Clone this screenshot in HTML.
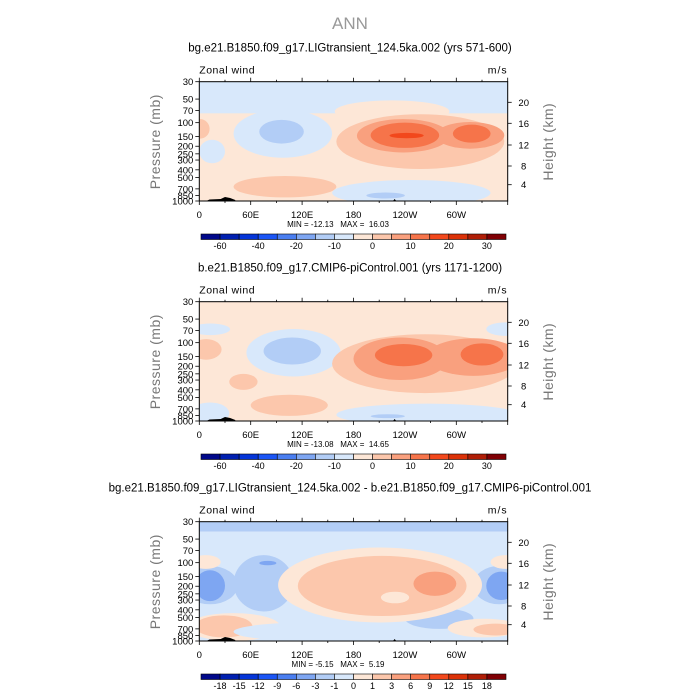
<!DOCTYPE html>
<html><head><meta charset="utf-8"><style>
html,body{margin:0;padding:0;background:#fff;}
svg{display:block;font-family:"Liberation Sans",sans-serif;}
</style></head><body>
<svg id="chart" width="700" height="700" viewBox="0 0 700 700" xmlns="http://www.w3.org/2000/svg">
<text x="350" y="29" text-anchor="middle" font-size="17" fill="#999">ANN</text>
</svg>
<script>
const palette = ["#00088a","#0020b0","#0435d8","#1b55f5","#4a7ef0","#7ea6f2","#b2cdf6","#d8e8fb","#fde7d7","#fcc7ac","#f9a07e","#f6744a","#f2481c","#dc3208","#b01e06","#800004"];
const pressureTicks = [30,50,70,100,150,200,250,300,400,500,700,850,1000];
const lonTicks = [0,60,120,180,240,300];
const lonLabels = ["0","60E","120E","180","120W","60W"];
const heightTicks = [20,16,12,8,4];
const heightOffsets = [20.6,41.6,63.3,84.3,103];
const cbLabelsFull = ["-60","","-40","","-20","","-10","","0","","10","","20","","30"];
const cbLabelsDiff = ["-18","-15","-12","-9","-6","-3","-1","0","1","3","6","9","12","15","18"];
const titles = ["bg.e21.B1850.f09_g17.LIGtransient_124.5ka.002 (yrs 571-600)","b.e21.B1850.f09_g17.CMIP6-piControl.001 (yrs 1171-1200)","bg.e21.B1850.f09_g17.LIGtransient_124.5ka.002 - b.e21.B1850.f09_g17.CMIP6-piControl.001"];
const minVals = ["-12.13","-13.08","-5.15"];
const maxVals = ["16.03","14.65","5.19"];
const bgLevels = [8,8,7];
// blobs: [shape, lon0, lon1, p0, p1, colorIndex]
const blobsTop = [
 ["r",0,360,30,76,7],["e",158,292,52,100,8],["e",40,155,68,280,7],["e",70,122,92,185,6],
 ["e",0,30,165,330,7],["e",-10,12,90,160,9],["e",160,356,78,390,9],["e",184,292,90,240,10],
 ["e",276,356,98,215,10],["e",200,280,100,210,11],["e",296,340,106,180,11],["e",222,262,135,158,12],
 ["e",40,160,480,900,9],["e",155,340,540,1150,7],["e",195,240,780,930,6]
];
const blobsMid = [
 ["e",-10,36,57,80,7],["e",335,380,55,82,7],["e",55,165,67,270,7],["e",75,142,86,190,6],
 ["e",-10,26,90,165,9],["e",155,372,78,440,9],["e",180,290,86,300,10],["e",265,375,88,265,10],
 ["e",205,272,104,200,11],["e",305,355,102,196,11],["e",35,68,250,400,9],["e",60,150,462,860,9],
 ["e",-10,35,580,1100,7],["e",160,372,600,1150,7],["e",200,240,820,920,6]
];
const blobsDiff = [
 ["r",0,360,30,40,6],["e",40,110,80,420,6],["e",-20,45,110,340,6],["e",320,380,110,340,6],
 ["e",-5,30,125,310,5],["e",335,370,130,300,5],["e",70,90,95,108,5],["e",240,320,380,700,6],
 ["e",-10,25,80,120,8],["e",340,375,80,120,8],["e",92,330,64,580,8],["e",115,312,82,480,9],
 ["e",250,300,130,265,10],["e",212,245,235,330,8],["e",-15,95,440,1000,8],["e",-5,62,470,900,9],
 ["e",290,375,520,900,8],["e",320,372,600,850,9],["e",40,220,580,1000,7]
];
const panelBlobs = [blobsTop, blobsMid, blobsDiff];
const cbLabelSets = [cbLabelsFull, cbLabelsFull, cbLabelsDiff];

const svg = document.getElementById('chart');
const NS = "http://www.w3.org/2000/svg";
const X0 = 199.3, X1 = 507.7, PH = 119.3;
function xScale(lon){ return X0 + lon/360*(X1-X0); }
function yScale(p, top){ return top + Math.log10(p/30)/Math.log10(1000/30)*PH; }
function mk(tag, attrs, parent){ const e=document.createElementNS(NS,tag); for(const k in attrs) e.setAttribute(k,attrs[k]); (parent||svg).appendChild(e); return e; }
function txt(s, attrs, parent){ const e=mk('text',attrs,parent); e.textContent=s; return e; }

[0,1,2].forEach(i=>{
  const top = 81.7 + i*220;
  const g = mk('g',{});
  
  
  const t = txt(titles[i],{x:350,y:top-30,'text-anchor':'middle','font-size':11.5,fill:'#000'},g);
  
  
  const cid = 'clip'+i;
  const cp = mk('clipPath',{id:cid},g);
  mk('rect',{x:X0,y:top,width:X1-X0,height:PH},cp);
  const plot = mk('g',{'clip-path':'url(#'+cid+')'},g);
  
  
  mk('rect',{x:X0,y:top,width:X1-X0,height:PH,fill:palette[bgLevels[i]]},plot);
  panelBlobs[i].forEach(b=>{
    const xa=xScale(b[1]), xb=xScale(b[2]), ya=yScale(b[3],top), yb=yScale(b[4],top);
    let el;
    if(b[0]==='r') el=mk('rect',{x:xa,y:ya,width:xb-xa,height:yb-ya,fill:palette[b[5]]},plot);
    else el=mk('ellipse',{cx:(xa+xb)/2,cy:(ya+yb)/2,rx:(xb-xa)/2,ry:(yb-ya)/2,fill:palette[b[5]]},plot);
    
    
  });
  const by = top+PH;
  const topo = mk('path',{d:`M${xScale(8)} ${by} L${xScale(12)} ${by-1.5} L${xScale(25)} ${by-2} L${xScale(30)} ${by-4} L${xScale(36)} ${by-3} L${xScale(42)} ${by-1} L${xScale(42)} ${by} Z M${xScale(226)} ${by} L${xScale(228)} ${by-2} L${xScale(230)} ${by} Z`,fill:'#000'},plot);
  
  
  const fr = mk('rect',{x:X0,y:top,width:X1-X0,height:PH,fill:'none',stroke:'#000','stroke-width':1},g);
  
  
  pressureTicks.forEach(p=>{
    const y=yScale(p,top);
    mk('line',{x1:X0-4,x2:X0,y1:y,y2:y,stroke:'#000','stroke-width':0.8},g);
    const l=txt(String(p),{x:X0-6,y:y+3.5,'text-anchor':'end','font-size':9.5,fill:'#000'},g);
    
    
  });
  for(let lon=0; lon<=360; lon+=30){
    const x=xScale(lon), major = lon%60===0;
    mk('line',{x1:x,x2:x,y1:by,y2:by+(major?4:2),stroke:'#000','stroke-width':0.8},g);
    mk('line',{x1:x,x2:x,y1:top,y2:top-(major?4:2),stroke:'#000','stroke-width':0.8},g);
  }
  lonTicks.forEach((lon,k)=>{
    const l=txt(lonLabels[k],{x:xScale(lon),y:by+17,'text-anchor':'middle','font-size':9.5,fill:'#000'},g);
    
    
  });
  heightTicks.forEach((h,k)=>{
    const y=top+heightOffsets[k];
    mk('line',{x1:X1,x2:X1+4,y1:y,y2:y,stroke:'#000','stroke-width':0.8},g);
    const l=txt(String(h),{x:X1+16,y:y+3.5,'text-anchor':'middle','font-size':9.5,fill:'#000'},g);
    
    
  });
  const yl=txt('Pressure (mb)',{x:0,y:0,'text-anchor':'middle','font-size':14,fill:'#777','letter-spacing':'0.5',transform:`translate(160,${top+60}) rotate(-90)`},g);
  
  
  const hl=txt('Height (km)',{x:0,y:0,'text-anchor':'middle','font-size':14,fill:'#777','letter-spacing':'0.5',transform:`translate(553,${top+60}) rotate(-90)`},g);
  
  
  const zw=txt('Zonal wind',{x:X0,y:top-8,'font-size':10.5,fill:'#000','letter-spacing':'0.5'},g);
  
  
  const un=txt('m/s',{x:X1,y:top-8,'text-anchor':'end','font-size':10.5,fill:'#000','letter-spacing':'1'},g);
  
  
  const mm=txt(`MIN = ${minVals[i]}   MAX =  ${maxVals[i]}`,{x:338,y:by+26,'text-anchor':'middle','font-size':8,fill:'#000',style:'white-space:pre'},g);
  
  
  const cbx=201, cbw=305, cby=by+33, cbh=5.5, bw=cbw/16;
  const cb = mk('g',{},g);
  
  
  palette.forEach((c,k)=>{
    const r=mk('rect',{x:cbx+k*bw,y:cby,width:bw,height:cbh,fill:c,stroke:'#000','stroke-width':0.6},cb);
    
    
  });
  cbLabelSets[i].forEach((s,k)=>{
    if(!s) return;
    const l=txt(s,{x:cbx+(k+1)*bw,y:cby+15,'text-anchor':'middle','font-size':9,fill:'#000'},cb);
    
    
  });
});
</script>
</body></html>
